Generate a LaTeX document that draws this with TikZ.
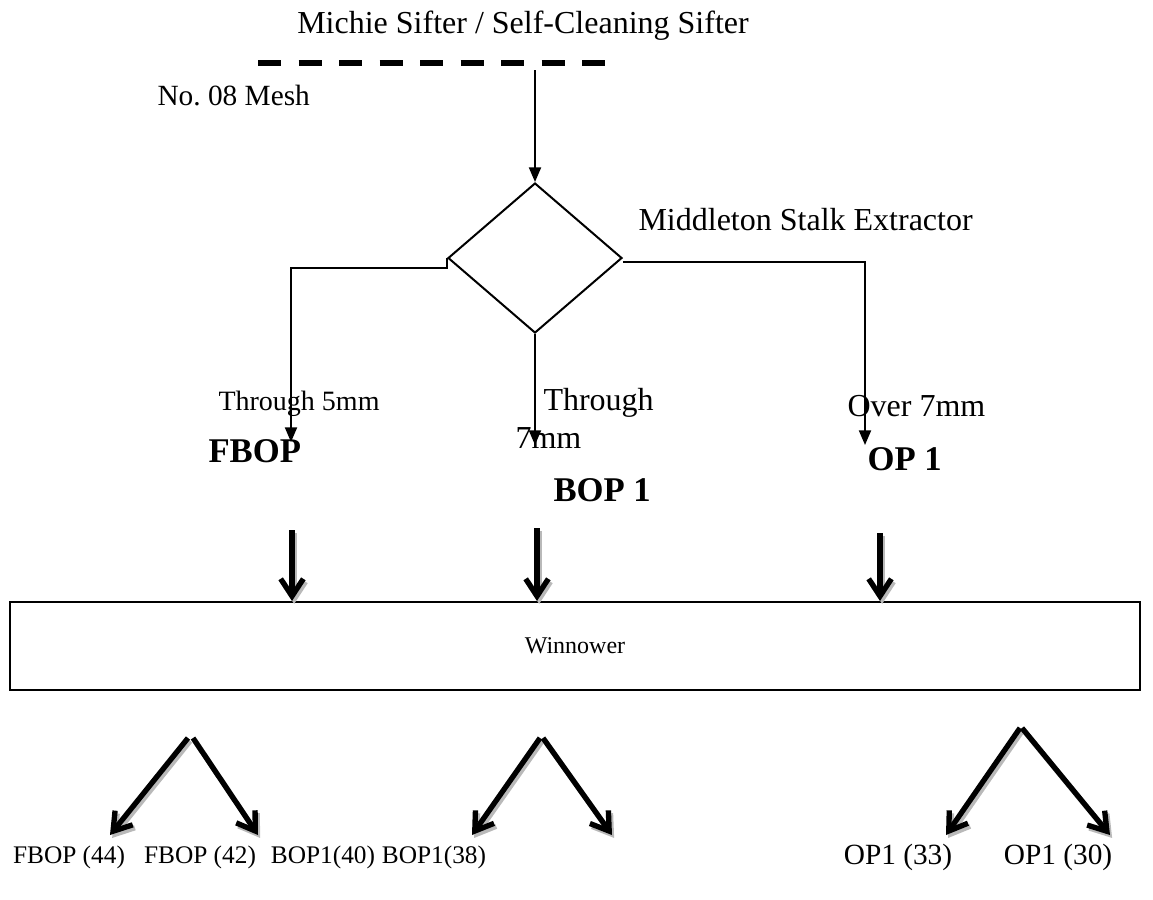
\documentclass[tikz,12pt,border=0pt]{standalone}
\usepackage{fontspec}
\setmainfont{Liberation Serif}
\usetikzlibrary{arrows.meta,shapes.geometric,positioning}

\begin{document}
\begin{tikzpicture}[x=0.375pt, y=-0.375pt,
	flow/.style={line width=0.75pt, -{Triangle[length=5.5pt, width=4.5pt]}},
	heavy/.style={line width=2pt, -{Straight Barb[length=6.5pt, width=8.5pt]}},
	shadowed/.style={heavy, gray!55, transform canvas={shift={(0.8pt,-1.1pt)}}},
	txt/.style={inner sep=0pt, anchor=base west},
	big/.style={font=\fontsize{12}{14}\selectfont},
	small/.style={font=\fontsize{11}{13}\selectfont},
	grade/.style={font=\fontsize{13}{15}\selectfont\bfseries},
	yield/.style={font=\fontsize{9.5}{11}\selectfont}]
	\useasboundingbox (0,0) rectangle (1153,899);
	% sifter and mesh
	\node[big] (title) at (523,26) {Michie Sifter / Self-Cleaning Sifter};
	\coordinate (meshL) at (258,63);
	\coordinate (meshR) at (607,63);
	\draw[line width=1.9pt, dash pattern=on 8.7pt off 6.5pt] (meshL) -- (meshR);
	\node[txt, small] (mesh) at (157,105) {No.\ 08 Mesh};
	\node[diamond, draw, line width=0.75pt, inner sep=0pt, minimum width=65.25pt, minimum height=56.25pt] (extr) at (535,258) {};
	\node[txt, big] (extrlbl) at (638,230) {Middleton Stalk Extractor};
	\coordinate (feed) at (extr.north |- 0,70);
	\draw[flow] (feed) -- (extr.north);
	% three outlets
	\coordinate (fEnd) at (291,442);
	\coordinate (bEnd) at (extr.south |- 0,445);
	\coordinate (oEnd) at (865,445);
	\draw[flow] (extr.west) -- ++(0,10) -| (fEnd);
	\draw[flow] (extr.east) ++(0,4) -| (oEnd);
	\draw[flow] (extr.south) -- (bEnd);
	\node[txt, font=\fontsize{10.5}{12}\selectfont] (thr5) at (218,410) {Through 5mm};
	\node[txt, grade] (fbop) at (208,462) {FBOP};
	\node[txt, big, align=left] (thr7) at (515,448) {\hspace*{10.5pt}Through\\7mm};
	\node[txt, grade] (bop) at (553,501) {BOP 1};
	\node[txt, big] (ovr7) at (847,416) {Over 7mm};
	\node[txt, grade] (op) at (867,470) {OP 1};
	% winnower
	\node[draw, line width=0.75pt, minimum width=423.75pt, minimum height=33pt, font=\fontsize{9}{11}\selectfont] (win) at (575,646) {Winnower};
	\coordinate (fTop) at (292,530);
	\coordinate (bTop) at (537,528);
	\coordinate (oTop) at (880,533);
	\foreach \t in {fTop,bTop,oTop} {
		\draw[shadowed] (\t) -- (\t |- win.north);
		\draw[heavy] (\t) -- (\t |- win.north);
	}
	% grades
	\coordinate (fS1) at (188,738); \coordinate (fS2) at (193,738);
	\coordinate (bS1) at (540,738); \coordinate (bS2) at (543,738);
	\coordinate (oS1) at (1020,728); \coordinate (oS2) at (1022,728);
	\coordinate (f44) at (110,835); \coordinate (f42) at (258,835);
	\coordinate (b40) at (472,835); \coordinate (b38) at (612,835);
	\coordinate (o33) at (946,835); \coordinate (o30) at (1110,835);
	\foreach \s/\e in {fS1/f44,fS2/f42,bS1/b40,bS2/b38,oS1/o33,oS2/o30} {
		\draw[shadowed] (\s) -- (\e);
		\draw[heavy] (\s) -- (\e);
	}
	\node[yield] (g44) at (69,857) {FBOP (44)};
	\node[yield] (g42) at (200,857) {FBOP (42)};
	\node[yield] (g40) at (323,857) {BOP1(40)};
	\node[yield] (g38) at (434,857) {BOP1(38)};
	\node[small] (g33) at (898,857) {OP1 (33)};
	\node[small] (g30) at (1058,857) {OP1 (30)};
\end{tikzpicture}
\end{document}
